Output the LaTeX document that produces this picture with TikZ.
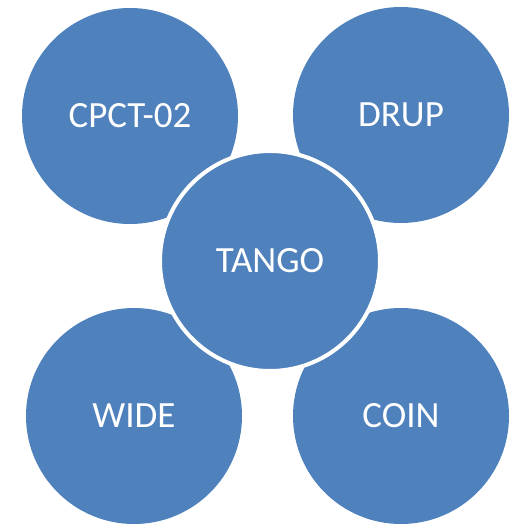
\documentclass[tikz,border=0pt]{standalone}
\usepackage{fontspec}
\setmainfont{Carlito}
\definecolor{petal}{RGB}{79,129,189}
\begin{document}
\begin{tikzpicture}[x=1pt,y=-1pt,
  bubble/.style={circle, fill=petal, inner sep=0pt, minimum size=216pt,
    text=white, font=\fontsize{37}{42}\selectfont},
  hub/.style={bubble, minimum size=220pt, draw=white, line width=4pt}]
  \useasboundingbox (0,0) rectangle (517,524);
  \node[bubble] (cpct) at (130,116) {CPCT-02};
  \node[bubble] (drup) at (401,115) {DRUP};
  \node[bubble] (wide) at (134,416) {WIDE};
  \node[bubble] (coin) at (401,416) {COIN};
  \node[hub] (tango) at (270,261) {TANGO};
\end{tikzpicture}
\end{document}
